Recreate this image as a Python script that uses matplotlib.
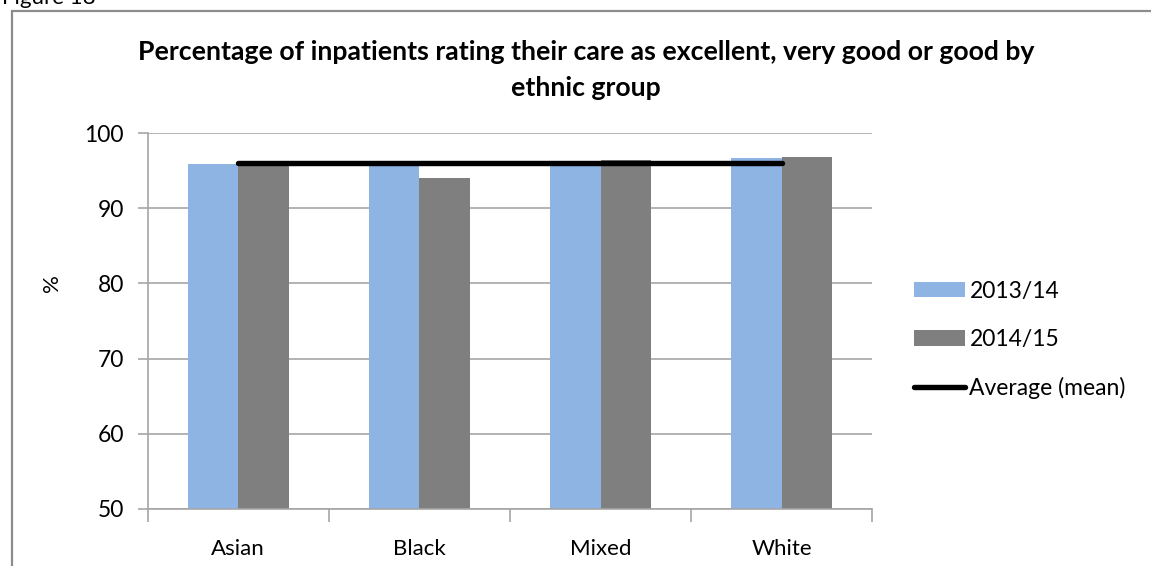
import numpy as np
import matplotlib
matplotlib.use("Agg")
from matplotlib import pyplot as plt
from matplotlib.patches import Rectangle

plt.rcParams['font.family'] = ['Lato', 'DejaVu Sans']

groups = ['Asian', 'Black', 'Mixed', 'White']
rating_1314 = [95.9, 96.0, 96.0, 96.7]
rating_1415 = [96.0, 94.1, 96.5, 96.8]
average = [96.0, 96.0, 96.0, 96.0]
yticks = [50, 60, 70, 80, 90, 100]

blue = '#8EB4E3'
grey = '#7F7F7F'
grid_col = '#A6A6A6'

W, H = 1151, 566
fig = plt.figure(figsize=(W / 100, H / 100), dpi=100)

# outer frame of the chart object, running off the right and bottom edges
fig.patches.append(Rectangle((12 / W, -0.2), 1.5, 1 - 11 / H + 0.2,
                             transform=fig.transFigure, fill=False,
                             edgecolor='#8C8C8C', linewidth=1.6))
fig.text(2 / W, 1 - 4 / H, 'Figure 18', fontsize=16, va='baseline',
         ha='left', color='black')

ax = fig.add_axes([147.7 / W, 57.3 / H, 724.6 / W, 375.4 / H])

x = np.arange(len(groups))
bw = 0.2795
b1 = ax.bar(x - bw, rating_1314, width=bw, align='edge',
            color=blue, label='2013/14', zorder=2)
b2 = ax.bar(x, rating_1415, width=bw, align='edge', color=grey,
            label='2014/15', zorder=2)
ln, = ax.plot(x, average, color='black', linewidth=3.9, solid_capstyle='round',
              label='Average (mean)', zorder=3)

ax.set_xlim(-0.5, len(groups) - 0.5)
ax.set_ylim(50, 100)
ax.set_yticks(yticks)
ax.set_yticklabels([str(v) for v in yticks], fontsize=16.5)
ax.yaxis.grid(True, color=grid_col, linewidth=1.2, zorder=0)
ax.set_axisbelow(True)

ax.set_xticks(x)
ax.set_xticklabels(groups, fontsize=16)
ax.set_xticks(np.arange(len(groups) + 1) - 0.5, minor=True)
ax.tick_params(axis='x', which='major', length=0, pad=22)
ax.tick_params(axis='x', which='minor', length=9, width=1.2, color=grid_col)
ax.tick_params(axis='y', length=7, width=1.2, color=grid_col, pad=10)

for side in ['top', 'right']:
    ax.spines[side].set_visible(False)
for side in ['left', 'bottom']:
    ax.spines[side].set_color(grid_col)
    ax.spines[side].set_linewidth(1.2)

ax.set_ylabel('%', fontsize=16)
ax.yaxis.set_label_coords(-86 / 724.6, 0.6)

fig.text(586 / W, 1 - 52 / H,
         'Percentage of inpatients rating their care as excellent, very good or good by',
         fontsize=19.2, fontweight='bold', ha='center', va='center')
fig.text(586 / W, 1 - 88 / H, 'ethnic group',
         fontsize=19.2, fontweight='bold', ha='center', va='center')

ax.legend(handles=[b1, b2, ln], loc='center left',
          bbox_to_anchor=(903 / W, 1 - 340 / H),
          bbox_transform=fig.transFigure, frameon=False, fontsize=16.5,
          handlelength=2.2, handleheight=0.65, handletextpad=0.2,
          labelspacing=1.19, borderpad=0)

fig.savefig('out.png', dpi=100)
